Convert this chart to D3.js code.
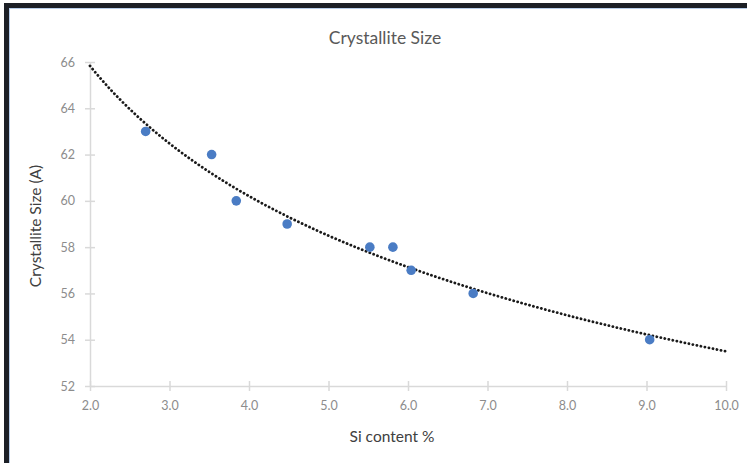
<!DOCTYPE html>
<html>
<head>
<meta charset="utf-8">
<script src="https://cdn.jsdelivr.net/npm/d3@7"></script>
<style>
  body { margin: 0; background: #fff; }
  svg text { font-family: Lato, "Open Sans", sans-serif; }
</style>
</head>
<body>
<div id="chart"></div>
<script>
// --- data ---
const siContent = [2.70, 3.53, 3.84, 4.48, 5.52, 5.81, 6.04, 6.82, 9.04];
const crystalSize = [63, 62, 60, 59, 58, 58, 57, 56, 54];
const xTicks = [2, 3, 4, 5, 6, 7, 8, 9, 10];
const yTicks = [52, 54, 56, 58, 60, 62, 64, 66];

(function () {
    const W = 747, H = 463;
    const plot = { left: 90, right: 726, top: 62, bottom: 386 };

    const svg = d3.select("#chart").append("svg")
        .attr("width", W).attr("height", H);

    // screenshot frame (top + left edges)
    svg.append("rect").attr("x", 0).attr("y", 0).attr("width", W).attr("height", H).attr("fill", "#fff");
    svg.append("rect").attr("x", 4).attr("y", 3).attr("width", W - 4).attr("height", 5).attr("fill", "#1c1f26");
    svg.append("rect").attr("x", 4).attr("y", 3).attr("width", 5).attr("height", H - 3).attr("fill", "#1c1f26");
    svg.append("line").attr("x1", 9).attr("x2", W).attr("y1", 8.5).attr("y2", 8.5)
        .attr("stroke", "#b7cdea").attr("stroke-width", 1);
    svg.append("line").attr("x1", 9.5).attr("x2", 9.5).attr("y1", 8).attr("y2", H)
        .attr("stroke", "#b7cdea").attr("stroke-width", 1);

    const x = d3.scaleLinear().domain([2, 10]).range([plot.left, plot.right]);
    const y = d3.scaleLinear().domain([52, 66]).range([plot.bottom, plot.top]);

    // axes with "cross" tick marks
    const axisColor = "#d9d9d9";
    const xAxis = svg.append("g").attr("transform", `translate(0,${plot.bottom})`)
        .call(d3.axisBottom(x).tickValues(xTicks).tickFormat(d3.format(".1f")).tickSizeInner(5).tickSizeOuter(0).tickPadding(10));
    xAxis.selectAll(".tick line").attr("y1", -5);
    const yAxis = svg.append("g").attr("transform", `translate(${plot.left},0)`)
        .call(d3.axisLeft(y).tickValues(yTicks).tickSizeInner(5).tickSizeOuter(0).tickPadding(10));
    yAxis.selectAll(".tick line").attr("x1", 5);

    [xAxis, yAxis].forEach(a => {
        a.select(".domain").attr("stroke", axisColor).attr("stroke-width", 1.5);
        a.selectAll(".tick line").attr("stroke", axisColor).attr("stroke-width", 1.5);
        a.selectAll(".tick text").attr("fill", "#8c8c8c").style("font-size", "12.5px");
    });

    // power trendline fitted in log-log space (like Excel)
    const lx = siContent.map(Math.log), ly = crystalSize.map(Math.log);
    const mx = d3.mean(lx), my = d3.mean(ly);
    const b = d3.sum(lx, (v, i) => (v - mx) * (ly[i] - my)) / d3.sum(lx, v => (v - mx) * (v - mx));
    const a = Math.exp(my - b * mx);
    const trend = d3.range(2, 10.001, 0.05).map(v => [v, a * Math.pow(v, b)]);

    svg.append("path")
        .datum(trend)
        .attr("fill", "none")
        .attr("stroke", "#1a1a1a")
        .attr("stroke-width", 2.8)
        .attr("stroke-linecap", "round")
        .attr("stroke-dasharray", "0.1 4")
        .attr("d", d3.line().x(d => x(d[0])).y(d => y(d[1])));

    // points
    svg.append("g").selectAll("circle")
        .data(siContent)
        .join("circle")
        .attr("cx", d => x(d))
        .attr("cy", (d, i) => y(crystalSize[i]))
        .attr("r", 4.8)
        .attr("fill", "#4a7cc4");

    // titles
    svg.append("text").attr("x", 385).attr("y", 44).attr("text-anchor", "middle")
        .attr("fill", "#595959").style("font-size", "17.5px").text("Crystallite Size");
    svg.append("text").attr("x", 392).attr("y", 442).attr("text-anchor", "middle")
        .attr("fill", "#404040").style("font-size", "15.5px").text("Si content %");
    svg.append("text").attr("transform", "translate(41,226) rotate(-90)").attr("text-anchor", "middle")
        .attr("fill", "#404040").style("font-size", "15.5px").text("Crystallite Size (A)");
})();
</script>
</body>
</html>
